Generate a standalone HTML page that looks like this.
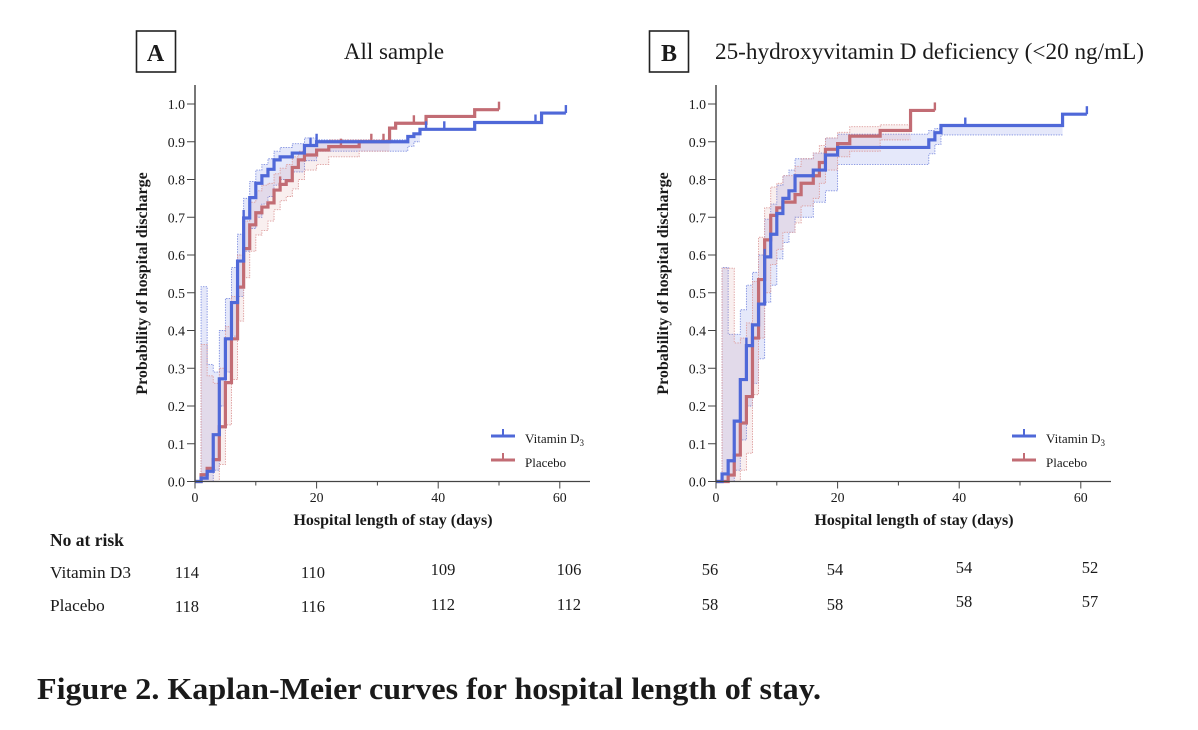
<!DOCTYPE html>
<html lang="en">
<head>
<meta charset="utf-8">
<title>Figure 2. Kaplan-Meier curves for hospital length of stay</title>
<style>
html,body{margin:0;padding:0;background:#fff;width:1198px;height:730px;overflow:hidden}
svg{display:block}
text{font-family:"Liberation Serif",serif;fill:#1a1a1a}
.marks{filter:blur(.35px)}
</style>
</head>
<body>
<svg id="figure" xmlns="http://www.w3.org/2000/svg" width="1198" height="730" viewBox="0 0 1198 730">
  <rect x="136.5" y="31" width="39" height="41" fill="#fff" stroke="#222" stroke-width="1.6"/>
  <text x="155.5" y="61" text-anchor="middle" font-size="24" font-weight="bold">A</text>
  <text x="394" y="59" text-anchor="middle" font-size="23">All sample</text>
  <rect x="649.5" y="31" width="39" height="41" fill="#fff" stroke="#222" stroke-width="1.6"/>
  <text x="669" y="61" text-anchor="middle" font-size="24" font-weight="bold">B</text>
  <text x="715" y="59" font-size="23" textLength="429" lengthAdjust="spacingAndGlyphs">25-hydroxyvitamin D deficiency (&lt;20 ng/mL)</text>

  <g id="panel-a"></g>
  <g id="panel-b"></g>

  <g font-size="16.5">
    <text x="50" y="546" font-size="17.5" font-weight="bold">No at risk</text>
    <text x="50" y="578" font-size="17.3">Vitamin D3</text>
    <text x="50" y="611" font-size="17.3">Placebo</text>
    <text x="187" y="578" text-anchor="middle" font-size="16.5">114</text>
    <text x="313" y="578" text-anchor="middle" font-size="16.5">110</text>
    <text x="443" y="575" text-anchor="middle" font-size="16.5">109</text>
    <text x="569" y="575" text-anchor="middle" font-size="16.5">106</text>
    <text x="187" y="612" text-anchor="middle" font-size="16.5">118</text>
    <text x="313" y="612" text-anchor="middle" font-size="16.5">116</text>
    <text x="443" y="610" text-anchor="middle" font-size="16.5">112</text>
    <text x="569" y="610" text-anchor="middle" font-size="16.5">112</text>
    <text x="710" y="575" text-anchor="middle" font-size="16.5">56</text>
    <text x="835" y="575" text-anchor="middle" font-size="16.5">54</text>
    <text x="964" y="573" text-anchor="middle" font-size="16.5">54</text>
    <text x="1090" y="573" text-anchor="middle" font-size="16.5">52</text>
    <text x="710" y="610" text-anchor="middle" font-size="16.5">58</text>
    <text x="835" y="610" text-anchor="middle" font-size="16.5">58</text>
    <text x="964" y="607" text-anchor="middle" font-size="16.5">58</text>
    <text x="1090" y="607" text-anchor="middle" font-size="16.5">57</text>
  </g>
  <text x="37" y="699" font-size="31" font-weight="bold" textLength="784" lengthAdjust="spacingAndGlyphs" fill="#111">Figure 2. Kaplan-Meier curves for hospital length of stay.</text>
</svg>
<script>
var xTickLabels = [0, 20, 40, 60];
var xMinorTicks = [10, 30, 50];
var yTickLabels = ["0.0","0.1","0.2","0.3","0.4","0.5","0.6","0.7","0.8","0.9","1.0"];

var aVitaminTimes = [0,1,2,3,4,5,6,7,8,9,10,11,12,13,14,16,18,20,35,36,37,46,57];
var aVitaminSurvival = [0,.009,.027,.124,.272,.378,.474,.584,.698,.752,.79,.81,.827,.852,.86,.87,.89,.9,.914,.921,.933,.951,.976];
var aVitaminUpper = [0,.516,.31,.29,.40,.485,.567,.655,.75,.795,.825,.84,.855,.875,.885,.895,.91,.905,.914,.921,null,null,null];
var aVitaminLower = [0,0,0,.03,.2,.29,.385,.49,.61,.67,.7,.735,.755,.785,.80,.82,.85,.875,.888,.90,null,null,null];
var aVitaminEnd = 61;
var aVitaminCensored = [8,19,20,38,41,56,61];

var aPlaceboTimes = [0,1,2,3,4,5,6,7,8,9,10,11,12,13,14,15,16,17,18,20,22,27,32,33,38,46];
var aPlaceboSurvival = [0,.018,.035,.058,.145,.262,.378,.515,.617,.68,.712,.727,.738,.772,.787,.797,.832,.852,.865,.878,.887,.9,.936,.949,.967,.985];
var aPlaceboUpper = [0,.363,.28,.26,.30,.41,.49,.6,.69,.74,.77,.785,.79,.815,.83,.84,.86,.875,.89,.9,.905,.905,null,null,null,null];
var aPlaceboLower = [0,0,0,0,.045,.15,.27,.425,.54,.61,.653,.665,.69,.72,.744,.755,.775,.8,.825,.84,.86,.875,null,null,null,null];
var aPlaceboEnd = 50;
var aPlaceboCensored = [14,24,29,31,36,50];

var bVitaminTimes = [0,1,2,3,4,5,6,7,8,9,10,11,12,13,16,18,20,35,36,37,57];
var bVitaminSurvival = [0,.02,.055,.16,.27,.36,.415,.47,.595,.655,.71,.75,.77,.81,.825,.865,.885,.905,.924,.943,.973];
var bVitaminUpper = [0,.567,.39,.39,.455,.52,.554,.6,.695,.735,.785,.81,.825,.855,.87,.91,.92,.93,.935,.943,null];
var bVitaminLower = [0,0,0,.03,.11,.2,.26,.325,.475,.52,.59,.633,.66,.7,.74,.77,.84,.868,.893,.918,null];
var bVitaminEnd = 61;
var bVitaminCensored = [5,8,41,61];

var bPlaceboTimes = [0,1,2,3,4,5,6,7,8,9,10,11,13,14,16,17,18,20,22,27,32];
var bPlaceboSurvival = [0,0,.017,.07,.155,.225,.38,.535,.64,.705,.725,.74,.76,.79,.81,.845,.88,.895,.915,.93,.983];
var bPlaceboUpper = [0,.565,.565,.367,.38,.42,.53,.647,.725,.78,.79,.81,.835,.855,.87,.89,.91,.925,.94,.945,null];
var bPlaceboLower = [0,0,0,0,.03,.075,.23,.38,.5,.575,.615,.66,.685,.73,.75,.79,.825,.86,.875,.905,null];
var bPlaceboEnd = 36;
var bPlaceboCensored = [36];

var NS = "http://www.w3.org/2000/svg";
var BLUE = "#4f68d8", RED = "#c26c74";
var BLUE_EDGE = "#7f8fe0", RED_EDGE = "#dd9c9c";
var BLUE_FILL = "rgba(96,112,225,.16)", RED_FILL = "rgba(205,120,125,.12)";
var Y0 = 481.5, PY = 377.5, PX = 6.08;

function mk(parent, tag, attrs) {
  var el = document.createElementNS(NS, tag);
  for (var k in attrs) el.setAttribute(k, attrs[k]);
  parent.appendChild(el);
  return el;
}
function yScale(v) { return Y0 - v * PY; }

function stepPath(times, vals, end, xScale) {
  var d = "M" + xScale(times[0]) + " " + yScale(vals[0]);
  for (var i = 0; i < times.length; i++) {
    var next = i + 1 < times.length ? times[i + 1] : end;
    d += "H" + xScale(next);
    if (i + 1 < times.length) d += "V" + yScale(vals[i + 1]);
  }
  return d;
}
function valueAt(times, vals, t) {
  var v = vals[0];
  for (var i = 0; i < times.length; i++) if (times[i] <= t) v = vals[i];
  return v;
}
function validTimes(times, vals) {
  var n = 0;
  while (n < vals.length && vals[n] !== null) n++;
  return n;
}

function drawBand(g, s, xScale) {
  var n = validTimes(s.times, s.upper);
  var t = s.times.slice(0, n);
  var end = n < s.times.length ? s.times[n] : s.end;
  var up = stepPath(t, s.upper.slice(0, n), end, xScale);
  var low = stepPath(t, s.lower.slice(0, n), end, xScale);
  var revLow = "V" + yScale(s.lower[n - 1]);
  for (var i = n - 1; i >= 0; i--) {
    revLow += "H" + xScale(t[i]);
    if (i > 0) revLow += "V" + yScale(s.lower[i - 1]);
  }
  var band = mk(g, "path", {d: up + revLow + "Z", fill: s.fill, stroke: "none"});
  
  
  var upEdge = mk(g, "path", {d: up, fill: "none", stroke: s.edge, "stroke-width": .9, "stroke-dasharray": "1.4 1.2"});
  
  
  var lowEdge = mk(g, "path", {d: low, fill: "none", stroke: s.edge, "stroke-width": .9, "stroke-dasharray": "1.4 1.2"});
  
  
}
function drawCurve(g, s, xScale) {
  var line = mk(g, "path", {d: stepPath(s.times, s.survival, s.end, xScale), fill: "none", stroke: s.color, "stroke-width": 3.2, "stroke-linejoin": "miter"});
  
  
  s.censored.forEach(function (t) {
    var v = valueAt(s.times, s.survival, t);
    var tick = mk(g, "line", {x1: xScale(t), x2: xScale(t), y1: yScale(v), y2: yScale(v) - 8, stroke: s.color, "stroke-width": 2.4});
    
    
  });
}

function drawPanel(id, x0, vit, pla, yTitleX) {
  var root = document.getElementById(id);
  var xScale = function (t) { return x0 + t * PX; };

  var marks = mk(root, "g", {"class": "marks"});
  
  
  drawBand(marks, vit, xScale);
  drawBand(marks, pla, xScale);
  drawCurve(marks, pla, xScale);
  drawCurve(marks, vit, xScale);

  var yAxis = mk(root, "line", {x1: x0, x2: x0, y1: 85, y2: 482, stroke: "#555", "stroke-width": 1.6});
  
  
  var xAxis = mk(root, "line", {x1: x0, x2: x0 + 395, y1: Y0, y2: Y0, stroke: "#444", "stroke-width": 1.2});
  
  

  yTickLabels.forEach(function (lab) {
    var v = parseFloat(lab);
    var tk = mk(root, "line", {x1: x0 - 8, x2: x0, y1: yScale(v), y2: yScale(v), stroke: "#444", "stroke-width": 1});
    
    
    var tx = mk(root, "text", {x: x0 - 10, y: yScale(v) + 5, "text-anchor": "end", "font-size": 13.8});
    
    
    tx.textContent = lab;
  });
  xTickLabels.forEach(function (t) {
    var tk = mk(root, "line", {x1: xScale(t), x2: xScale(t), y1: Y0, y2: Y0 + 7, stroke: "#444", "stroke-width": 1});
    
    
    var tx = mk(root, "text", {x: xScale(t), y: 502, "text-anchor": "middle", "font-size": 13.8});
    
    
    tx.textContent = t;
  });
  xMinorTicks.forEach(function (t) {
    var tk = mk(root, "line", {x1: xScale(t), x2: xScale(t), y1: Y0, y2: Y0 + 4, stroke: "#444", "stroke-width": 1});
    
    
  });

  var xt = mk(root, "text", {x: x0 + 198, y: 525, "text-anchor": "middle", "font-size": 16, "font-weight": "bold"});
  
  
  xt.textContent = "Hospital length of stay (days)";
  var yt = mk(root, "text", {x: 0, y: 0, "text-anchor": "middle", "font-size": 16, "font-weight": "bold", transform: "translate(" + yTitleX + " 283.5) rotate(-90)"});
  
  
  yt.textContent = "Probability of hospital discharge";

  var lx = x0 + 296;
  var legend = mk(root, "g", {});
  
  
  [[vit.color, 436, "Vitamin D", "legend-vitamin-d3"], [pla.color, 460, "Placebo", "legend-placebo"]].forEach(function (e) {
    var entry = mk(legend, "g", {});
    
    
    mk(entry, "line", {x1: lx, x2: lx + 24, y1: e[1], y2: e[1], stroke: e[0], "stroke-width": 3});
    mk(entry, "line", {x1: lx + 12, x2: lx + 12, y1: e[1], y2: e[1] - 7, stroke: e[0], "stroke-width": 2});
    var t = mk(entry, "text", {x: lx + 34, y: e[1] + 7, "font-size": 13});
    t.textContent = e[2];
    if (e[2] === "Vitamin D") {
      var sub = mk(t, "tspan", {dy: 3, "font-size": 9});
      sub.textContent = "3";
    }
  });
}

drawPanel("panel-a", 195, {
  times: aVitaminTimes, survival: aVitaminSurvival, upper: aVitaminUpper, lower: aVitaminLower,
  end: aVitaminEnd, censored: aVitaminCensored, color: BLUE, edge: BLUE_EDGE, fill: BLUE_FILL
}, {
  times: aPlaceboTimes, survival: aPlaceboSurvival, upper: aPlaceboUpper, lower: aPlaceboLower,
  end: aPlaceboEnd, censored: aPlaceboCensored, color: RED, edge: RED_EDGE, fill: RED_FILL
}, 147);

drawPanel("panel-b", 716, {
  times: bVitaminTimes, survival: bVitaminSurvival, upper: bVitaminUpper, lower: bVitaminLower,
  end: bVitaminEnd, censored: bVitaminCensored, color: BLUE, edge: BLUE_EDGE, fill: BLUE_FILL
}, {
  times: bPlaceboTimes, survival: bPlaceboSurvival, upper: bPlaceboUpper, lower: bPlaceboLower,
  end: bPlaceboEnd, censored: bPlaceboCensored, color: RED, edge: RED_EDGE, fill: RED_FILL
}, 668);
</script>
</body>
</html>
